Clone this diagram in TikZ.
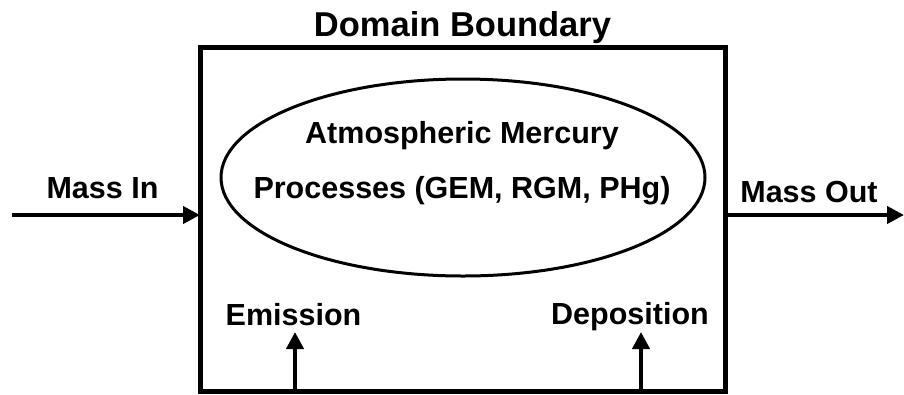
\documentclass[tikz,border=0pt]{standalone}
\usepackage{fontspec}
\setmainfont{Liberation Sans}
\usetikzlibrary{arrows.meta,shapes.geometric,calc}
\begin{document}
\begin{tikzpicture}[x=1pt,y=-1pt,
  lbl/.style={font=\fontsize{30.5}{36}\selectfont\bfseries, inner sep=0pt},
  flowarrow/.style={line width=4pt, -{Triangle[length=17pt,width=17pt]}},
  domainbox/.style={draw, line width=5pt, rectangle, outer sep=0pt, inner sep=0pt,
    minimum width=525pt, minimum height=344pt},
  procell/.style={draw, line width=3pt, ellipse, outer sep=0pt, inner sep=0pt,
    minimum width=484pt, minimum height=197pt}]
\useasboundingbox (0,0) rectangle (904,394);
\node[domainbox] (box) at (462.5,219) {};
\node[procell] (ell) at (463,177.5) {};
\node[lbl, font=\fontsize{34.5}{40}\selectfont\bfseries, anchor=base] (title) at (462.5,36) {Domain Boundary};
\node[lbl] (atm) at (462,136) {Atmospheric Mercury};
\node[lbl] (procs) at (462,191) {Processes (GEM, RGM, PHg)};
\node[lbl, anchor=base] (massin) at (102.5,198) {Mass In};
\node[lbl, anchor=base] (massout) at (809,202) {Mass Out};
\node[lbl, anchor=base] (emis) at (293.5,325) {Emission};
\node[lbl, anchor=base] (depo) at (630,324) {Deposition};
\coordinate (inStart) at (12,215);
\coordinate (outEnd) at (904,215);
\coordinate (emTip) at (295,332);
\coordinate (depTip) at (641,332);
\draw[flowarrow] (inStart) -- (box.west |- inStart);
\draw[flowarrow] (box.east |- outEnd) -- (outEnd);
\draw[flowarrow] (emTip |- box.south) -- (emTip);
\draw[flowarrow] (depTip |- box.south) -- (depTip);
\end{tikzpicture}
\end{document}
